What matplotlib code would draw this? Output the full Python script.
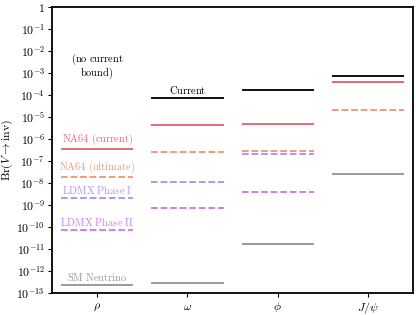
import numpy as np
import matplotlib
matplotlib.use("Agg")
import matplotlib.pyplot as plt

plt.rcParams['mathtext.fontset'] = 'cm'
plt.rcParams['font.family'] = 'serif'
plt.rcParams['font.serif'] = ['DejaVu Serif']

mesons = [r'$\rho$', r'$\omega$', r'$\phi$', r'$J/\psi$']
# branching ratio bounds per meson (None = no bound)
current = [None, 7.3e-5, 1.7e-4, 7.3e-4]
na64_current = [3.5e-7, 4.4e-6, 4.8e-6, 3.9e-4]
na64_ultimate = [1.9e-8, 2.6e-7, 2.8e-7, 2.1e-5]
ldmx_1 = [2.1e-9, 1.1e-8, 2.1e-7, None]
ldmx_2 = [7.3e-11, 7.3e-10, 3.9e-9, None]
sm_nu = [2.3e-13, 2.8e-13, 1.7e-11, 2.6e-8]

series = [
    ("Current", current, "black", "-"),
    ("NA64 (current)", na64_current, "#e8404f", "-"),
    ("NA64 (ultimate)", na64_ultimate, "#f0805a", "--"),
    ("LDMX Phase I", ldmx_1, "#9a78f5", "--"),
    ("LDMX Phase II", ldmx_2, "#c05cf0", "--"),
    ("SM Neutrino", sm_nu, "#808080", "-"),
]

fig = plt.figure(figsize=(4.16, 3.15), dpi=100)
ax = fig.add_axes([0.125, 0.07, 0.868, 0.908])

hw = 0.4
for name, vals, col, ls in series:
    for i, v in enumerate(vals):
        if v is None:
            continue
        ax.hlines(v, i - hw, i + hw, colors=col, linestyles=ls, lw=1.3,
                  alpha=0.85 if col != "black" else 1.0)

# labels on the first column that has the series
lab_y = {"Current": (1, current[1]), "NA64 (current)": (0, na64_current[0]),
         "NA64 (ultimate)": (0, na64_ultimate[0]), "LDMX Phase I": (0, ldmx_1[0]),
         "LDMX Phase II": (0, ldmx_2[0]), "SM Neutrino": (0, sm_nu[0])}
for name, vals, col, ls in series:
    xi, yv = lab_y[name]
    ax.text(xi, yv * 1.25, r'$\mathrm{' + name.replace(' ', r'\ ') + '}$',
            color=col, ha='center', va='bottom', fontsize=7.5,
            alpha=0.8 if col != "black" else 1.0)

ax.text(0, 10**-2.7, r'$\mathrm{(no\ current}$' + '\n' + r'$\mathrm{bound)}$',
        ha='center', va='center', fontsize=7.5, linespacing=1.0)

ax.set_yscale('log')
ax.set_ylim(1e-13, 1)
ax.set_xlim(-0.5, 3.5)
ax.set_xticks(range(len(mesons)))
ax.set_xticklabels(mesons, fontsize=8.5)
ax.set_yticks([10.0**k for k in range(-13, 1)])
ax.set_yticklabels([r'$10^{%d}$' % k if k != 0 else '$1$' for k in range(-13, 1)], fontsize=8.5)
ax.yaxis.set_minor_locator(matplotlib.ticker.NullLocator())
ax.tick_params(axis='x', pad=2, length=3)
ax.tick_params(axis='y', pad=2, length=3)
ax.set_ylabel(r'$\mathrm{Br}(V\to\mathrm{inv})$', fontsize=8.5, labelpad=1)
for s in ax.spines.values():
    s.set_linewidth(1.3)

fig.savefig("out.png", dpi=100)
